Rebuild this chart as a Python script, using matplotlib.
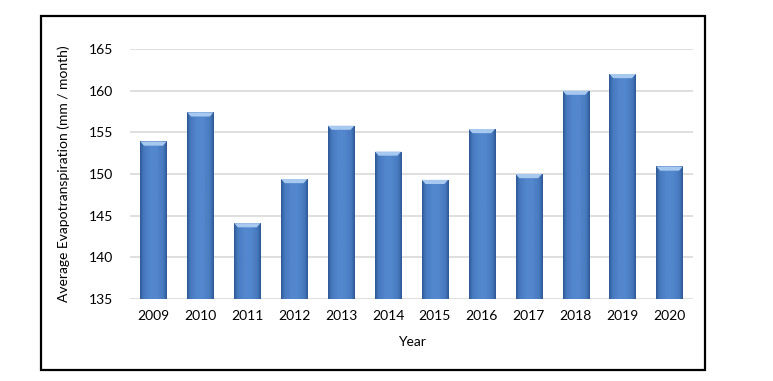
import numpy as np
import matplotlib
matplotlib.use("Agg")
import matplotlib.pyplot as plt
from matplotlib.patches import Rectangle
from matplotlib.colors import LinearSegmentedColormap

# data
years = ["2009", "2010", "2011", "2012", "2013", "2014",
         "2015", "2016", "2017", "2018", "2019", "2020"]
et_values = [153.9, 157.4, 144.1, 149.4, 155.8, 152.7,
             149.3, 155.4, 150.0, 160.0, 162.0, 150.9]
y_ticks = [135, 140, 145, 150, 155, 160, 165]

plt.rcParams['font.family'] = ['Lato', 'DejaVu Sans']

fig = plt.figure(figsize=(7.73, 3.81), dpi=100)
ax = fig.add_axes([130/773, 1-299/381, (693-130)/773, (299-49)/381])

x = np.arange(len(years))
bars = ax.bar(x, et_values, width=0.56, color="#4A7EC4", zorder=2)

# bevel look: dark thin edges, flat middle
grad = LinearSegmentedColormap.from_list(
    "bevel", [(0.0, "#2C5894"), (0.12, "#4678BD"), (0.4, "#5388CE"),
              (0.6, "#5388CE"), (0.88, "#4678BD"), (1.0, "#2C5894")])
g = np.linspace(0, 1, 64).reshape(1, -1)
for b in bars:
    x0, w, h = b.get_x(), b.get_width(), b.get_height()
    im = ax.imshow(g, cmap=grad, aspect="auto", zorder=3,
                   extent=[x0, x0 + w, 135, h], interpolation="bicubic")
    im.set_clip_path(b)
    cap = 0.5
    ax.fill([x0, x0 + w, x0 + w*0.86, x0 + w*0.14],
            [h, h, h - cap, h - cap], color="#A7C9F0", zorder=5, lw=0)

ax.set_xlim(-0.5, 11.5)
ax.set_ylim(135, 165)
ax.set_yticks(y_ticks)
ax.set_xticks(x)
ax.set_xticklabels(years)
ax.tick_params(length=0, labelsize=10, pad=8)
ax.tick_params(axis="y", pad=12)
for s in ax.spines.values():
    s.set_visible(False)
ax.yaxis.grid(True, color="#D9D9D9", lw=1.2, zorder=0)
ax.set_axisbelow(True)

ax.set_xlabel("Year", fontsize=10, labelpad=10)
ax.set_ylabel("Average Evapotranspiration (mm / month)", fontsize=10, labelpad=14)

# outer frame
fig.patches.append(Rectangle((41/773, 1-370/381), (705-41)/773, (370-16)/381,
                             transform=fig.transFigure, fill=False,
                             edgecolor="black", lw=1.6))

fig.savefig("out.png", dpi=100)
